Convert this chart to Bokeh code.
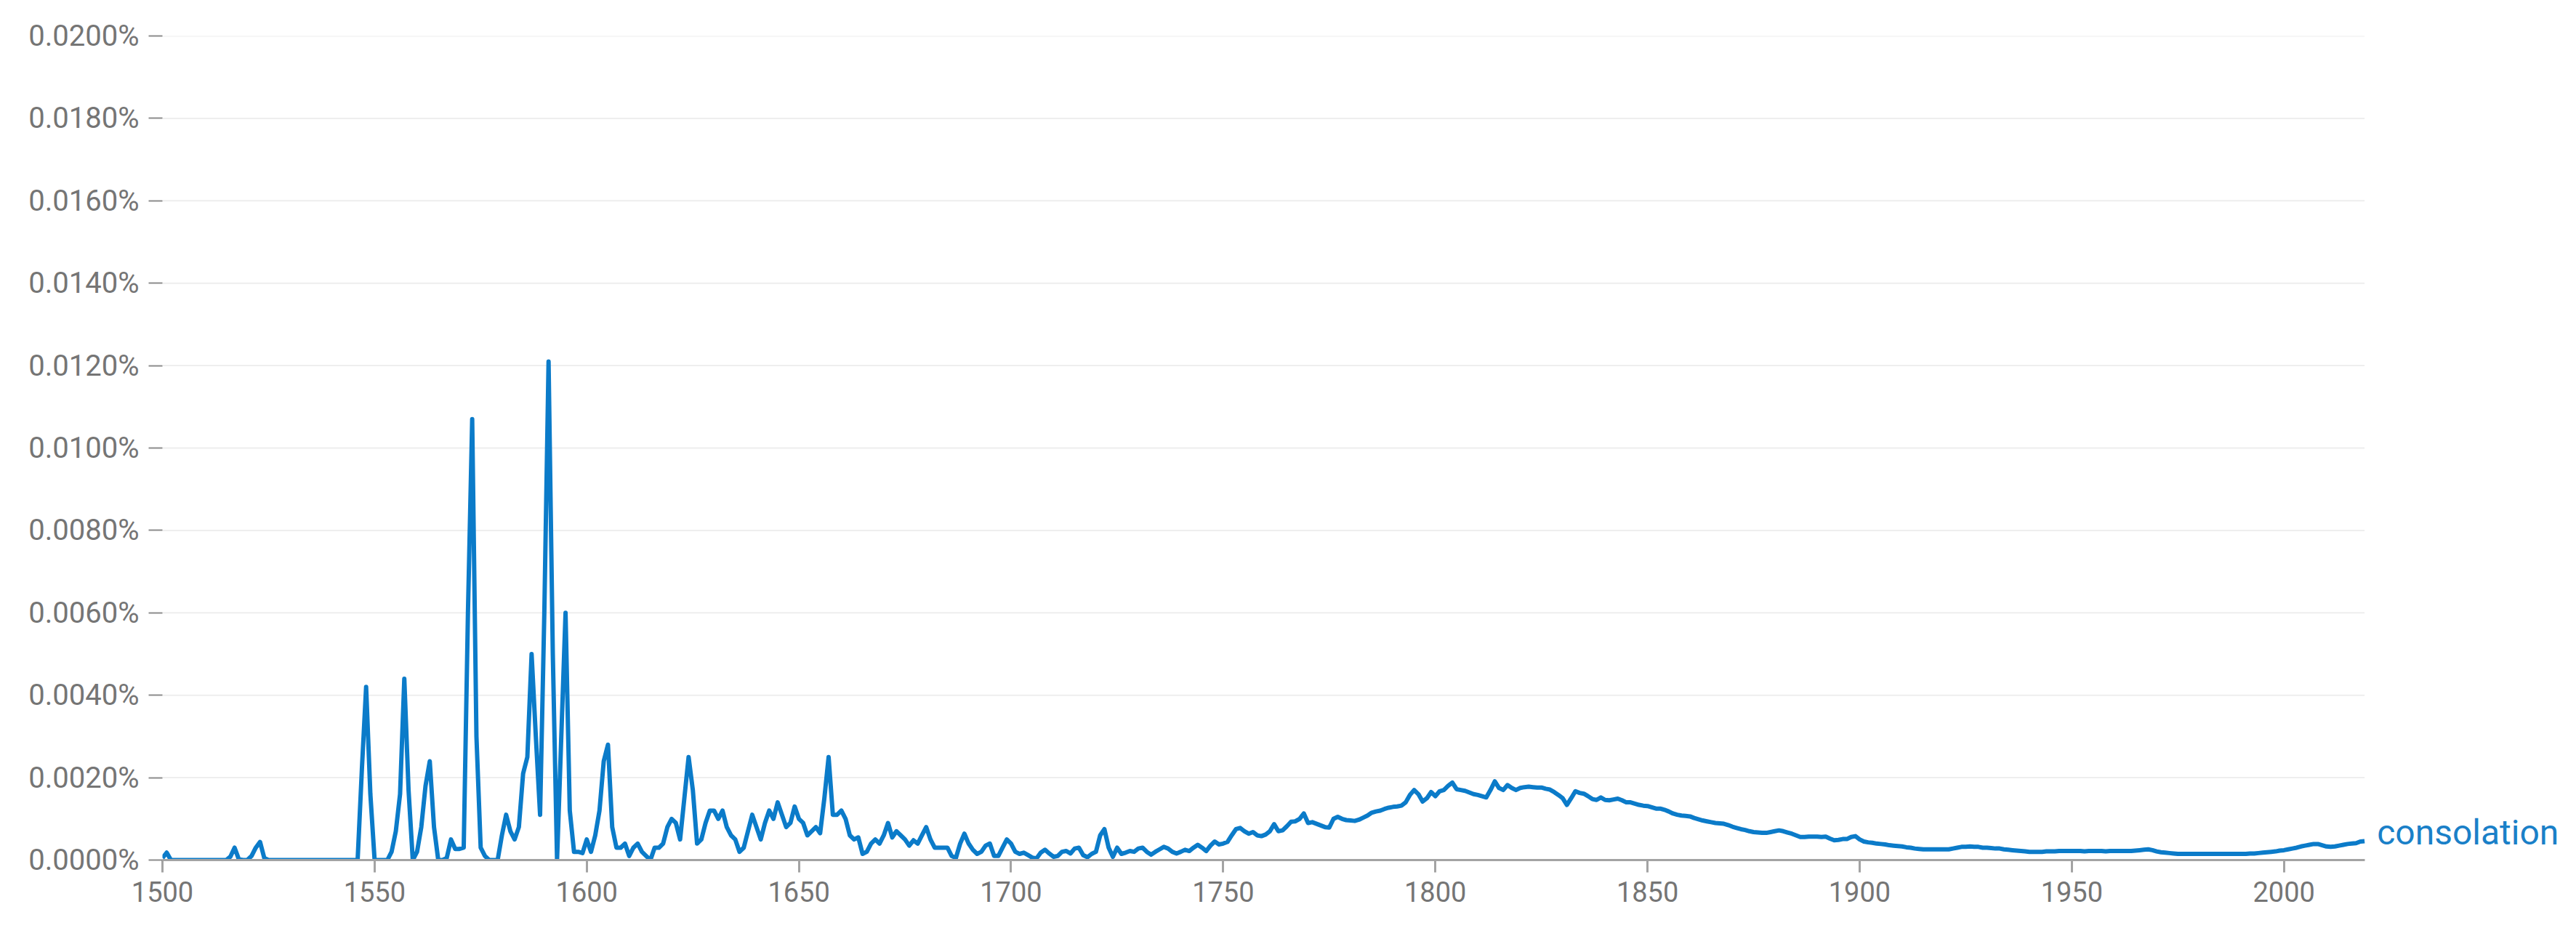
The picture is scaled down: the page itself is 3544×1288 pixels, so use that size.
from bokeh.plotting import figure
from bokeh.models import Range1d, FixedTicker, PrintfTickFormatter, Label
from bokeh.embed import file_html
from bokeh.resources import INLINE

# ---------------- data (percent of all words), one value per year ----------------
series_name = "consolation"
years = list(range(1500, 2020))

freq_1500s = [
    0.00005, 0.00018, 0, 0, 0, 0, 0, 0, 0, 0,
    0, 0, 0, 0, 0, 0, 0.00008, 0.0003, 0.00002, 0,
    0, 0.0001, 0.0003, 0.00044, 0.00005, 0, 0, 0, 0, 0,
    0, 0, 0, 0, 0, 0, 0, 0, 0, 0,
    0, 0, 0, 0, 0, 0, 0, 0.0022, 0.0042, 0.0016,
    0, 0, 0, 0, 0.0002, 0.0007, 0.0016, 0.0044, 0.0017, 0,
    0.0002, 0.0008, 0.0018, 0.0024, 0.0008, 0, 0, 0.00005, 0.0005, 0.00027,
    0.00027, 0.0003, 0.006, 0.0107, 0.003, 0.0003, 0.0001, 0, 0, 0,
    0.0006, 0.0011, 0.0007, 0.0005, 0.0008, 0.0021, 0.0025, 0.005, 0.003, 0.0011,
    0.006, 0.0121, 0.005, 0, 0.003, 0.006, 0.0012, 0.0002, 0.0002, 0.00017,
]
freq_1600s = [
    0.0005, 0.0002, 0.0006, 0.0012, 0.0024, 0.0028, 0.0008, 0.0003, 0.0003, 0.0004,
    0.0001, 0.0003, 0.0004, 0.0002, 0.0001, 0.0, 0.0003, 0.0003, 0.0004, 0.0008,
    0.001, 0.0009, 0.0005, 0.0015, 0.0025, 0.0017, 0.0004, 0.0005, 0.0009, 0.0012,
    0.0012, 0.001, 0.0012, 0.0008, 0.0006, 0.0005, 0.0002, 0.0003, 0.0007, 0.0011,
    0.0008, 0.0005, 0.0009, 0.0012, 0.001, 0.0014, 0.0011, 0.0008, 0.0009, 0.0013,
    0.001, 0.0009, 0.0006, 0.0007, 0.0008, 0.00065, 0.0015, 0.0025, 0.0011, 0.0011,
    0.0012, 0.001, 0.0006, 0.0005, 0.00055, 0.00015, 0.0002, 0.0004, 0.0005, 0.0004,
    0.0006, 0.0009, 0.00055, 0.0007, 0.0006, 0.0005, 0.00035, 0.00048, 0.0004, 0.0006,
    0.0008, 0.0005, 0.0003, 0.0003, 0.0003, 0.0003, 0.0001, 0.00005, 0.0004, 0.00064,
    0.0004, 0.00025, 0.00015, 0.0002, 0.00035, 0.0004, 0.0001, 0.0001, 0.0003, 0.0005,
]
freq_1700s = [
    0.0004, 0.0002, 0.00015, 0.00018, 0.00012, 0.00006, 0.00004, 0.00018, 0.00025, 0.00016,
    0.00008, 0.0001, 0.0002, 0.00022, 0.00016, 0.00028, 0.0003, 0.00012, 0.00007, 0.00015,
    0.0002, 0.0006, 0.00075, 0.0003, 0.00008, 0.0003, 0.00015, 0.00018, 0.00022, 0.0002,
    0.00028, 0.0003, 0.0002, 0.00013, 0.0002, 0.00026, 0.00032, 0.00028, 0.0002, 0.00016,
    0.0002, 0.00025, 0.00022, 0.0003, 0.00037, 0.0003, 0.00022, 0.00035, 0.00045, 0.00038,
    0.0004, 0.00044, 0.0006, 0.00075, 0.00078, 0.0007, 0.00064, 0.00068, 0.0006, 0.00058,
    0.00062, 0.0007, 0.00087, 0.0007, 0.00072, 0.00082, 0.00093, 0.00094, 0.001, 0.00113,
    0.0009, 0.00092, 0.00088, 0.00084, 0.0008, 0.00079, 0.001, 0.00105, 0.001, 0.00097,
    0.00096, 0.00095, 0.00098, 0.00103, 0.00108, 0.00115, 0.00118, 0.0012, 0.00124, 0.00127,
    0.00129, 0.0013, 0.00132, 0.0014, 0.00158, 0.0017, 0.0016, 0.00142, 0.0015, 0.00165,
]
freq_1800s = [
    0.00155, 0.00167, 0.0017, 0.0018, 0.00188, 0.00172, 0.0017, 0.00168, 0.00164, 0.0016,
    0.00158, 0.00155, 0.00152, 0.0017, 0.00191, 0.00175, 0.0017, 0.00182, 0.00175, 0.0017,
    0.00175, 0.00177, 0.00178, 0.00177, 0.00176, 0.00176, 0.00173, 0.00171, 0.00165, 0.00158,
    0.0015, 0.00134, 0.0015, 0.00167, 0.00163, 0.00161, 0.00155, 0.00148, 0.00146, 0.00152,
    0.00146, 0.00145, 0.00147, 0.00149, 0.00145, 0.0014, 0.0014, 0.00137, 0.00134, 0.00132,
    0.00131, 0.00128, 0.00125, 0.00125, 0.00122, 0.00118, 0.00113, 0.0011, 0.00108, 0.00107,
    0.00106, 0.00102, 0.00099, 0.00096, 0.00094, 0.00092, 0.0009, 0.00089, 0.00088, 0.00085,
    0.00081, 0.00078, 0.00075, 0.00073, 0.0007, 0.00068, 0.00067, 0.00066, 0.00066, 0.00068,
    0.0007, 0.00072, 0.0007, 0.00067, 0.00064, 0.0006, 0.00056, 0.00056, 0.00057, 0.00057,
    0.00057, 0.00056, 0.00057, 0.00052, 0.00048, 0.00049, 0.00051, 0.00051, 0.00056, 0.00058,
]
freq_1900s = [
    0.0005, 0.00045, 0.00043, 0.00042, 0.0004, 0.00039, 0.00038, 0.00036, 0.00035, 0.00034,
    0.00033, 0.00031, 0.0003, 0.00028, 0.00027, 0.00026, 0.00026, 0.00026, 0.00026, 0.00026,
    0.00026, 0.00026, 0.00028, 0.0003, 0.00032, 0.00032, 0.00033, 0.00032, 0.00032, 0.0003,
    0.0003, 0.00029, 0.00028, 0.00028, 0.00026, 0.00025, 0.00024, 0.00023, 0.00022, 0.00021,
    0.0002, 0.0002, 0.0002, 0.0002, 0.00021, 0.00021, 0.00021, 0.00022, 0.00022, 0.00022,
    0.00022, 0.00022, 0.00022, 0.00021, 0.00022, 0.00022, 0.00022, 0.00022, 0.00021, 0.00022,
    0.00022, 0.00022, 0.00022, 0.00022, 0.00022, 0.00023, 0.00024, 0.00025, 0.00026, 0.00024,
    0.00021, 0.00019, 0.00018, 0.00017, 0.00016, 0.00015, 0.00015, 0.00015, 0.00015, 0.00015,
    0.00015, 0.00015, 0.00015, 0.00015, 0.00015, 0.00015, 0.00015, 0.00015, 0.00015, 0.00015,
    0.00015, 0.00015, 0.00016, 0.00016, 0.00017, 0.00018, 0.00019, 0.0002, 0.00021, 0.00023,
]
freq_2000s = [
    0.00024, 0.00026, 0.00028, 0.0003, 0.00033, 0.00035, 0.00037, 0.00039, 0.00039, 0.00036,
    0.00033, 0.00032, 0.00033, 0.00035, 0.00037, 0.00039, 0.0004, 0.00041, 0.00045, 0.00046,
]

x_ticks = [1500, 1550, 1600, 1650, 1700, 1750, 1800, 1850, 1900, 1950, 2000]
y_ticks = [0.0, 0.002, 0.004, 0.006, 0.008, 0.010, 0.012, 0.014, 0.016, 0.018, 0.020]

freq = freq_1500s + freq_1600s + freq_1700s + freq_1800s + freq_1900s + freq_2000s
assert len(freq) == len(years)

# ---------------- figure ----------------
LINE_COLOR = "#0b7bc9"
GRAY = "#757575"
FONT = "Roboto"
X_END = years[-1]          # axis and grid stop at the last year
X_VIEW_END = 2066          # extra room on the right of the frame for the series label

p = figure(
    width=3528, height=1272,
    output_backend="svg", toolbar_location=None,
    x_range=Range1d(years[0], X_VIEW_END), y_range=Range1d(0, 0.02),
    min_border_left=223, min_border_right=1,
    min_border_top=49, min_border_bottom=89,
)
p.outline_line_color = None
p.background_fill_color = "white"
p.border_fill_color = "white"

# horizontal grid lines limited to the data period
p.xgrid.grid_line_color = None
p.ygrid.grid_line_color = None
grid_y = y_ticks[1:]
p.segment(x0=[years[0]] * len(grid_y), x1=[X_END] * len(grid_y), y0=grid_y, y1=grid_y,
          line_color="#eeeeee", line_width=2)

p.line(years, freq, line_color=LINE_COLOR, line_width=6, line_join="round")

# x axis
xa = p.xaxis[0]
xa.ticker = FixedTicker(ticks=x_ticks)
xa.bounds = (years[0], X_END)
xa.axis_line_color = "#a3a3a3"
xa.axis_line_width = 3
xa.major_tick_line_color = "#a3a3a3"
xa.major_tick_line_width = 3
xa.major_tick_out = 17
xa.major_tick_in = 0
xa.minor_tick_line_color = None
xa.major_label_standoff = 12
xa.major_label_text_font = FONT
xa.major_label_text_font_size = "38px"
xa.major_label_text_color = GRAY

# y axis
ya = p.yaxis[0]
ya.ticker = FixedTicker(ticks=y_ticks)
ya.formatter = PrintfTickFormatter(format="%.4f%%")
ya.axis_line_color = None
ya.major_tick_line_color = "#8c8c8c"
ya.major_tick_line_width = 2
ya.major_tick_out = 19
ya.major_tick_in = 0
ya.minor_tick_line_color = None
ya.major_label_standoff = 13
ya.major_label_text_font = FONT
ya.major_label_text_font_size = "40px"
ya.major_label_text_color = GRAY

# series label at line end
lbl = Label(
    x=years[-1], y=freq[-1], x_offset=17, y_offset=12,
    text=series_name, text_font=FONT, text_font_size="48px",
    text_color="#1a80c8", text_baseline="middle", text_align="left",
)
p.add_layout(lbl)

open("out.html", "w").write(file_html(p, INLINE))
